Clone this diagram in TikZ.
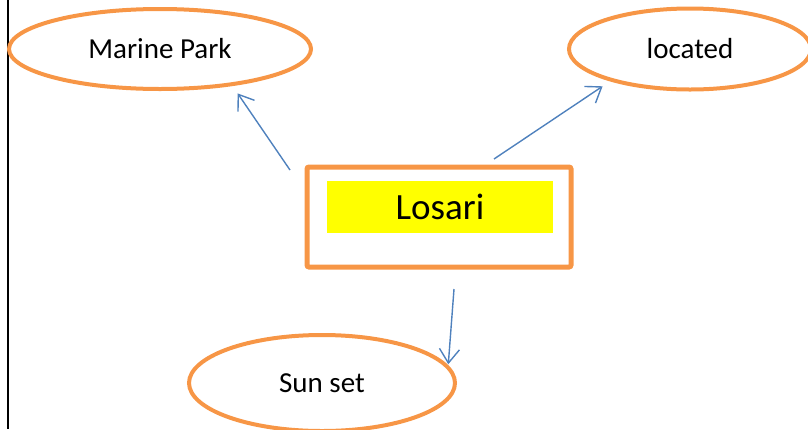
\documentclass[tikz,border=0pt]{standalone}
\usepackage{fontspec}
\setmainfont{Carlito}
\usepackage{xcolor}
\usetikzlibrary{shapes,arrows,positioning,arrows.meta}

\definecolor{bubbleorange}{HTML}{F79646}
\definecolor{linkblue}{HTML}{4F81BD}
\definecolor{labelyellow}{HTML}{FFFF00}

\tikzset{
    bubble/.style={ellipse, draw=bubbleorange, line width=4pt, inner sep=0pt,
        font=\fontsize{29}{33}\selectfont},
    link/.style={draw=linkblue, line width=1.4pt,
        -{Straight Barb[length=14pt,width=20pt,line width=1.4pt]}}
}

\begin{document}
\begin{tikzpicture}[x=1pt,y=-1pt]
    \useasboundingbox (0,0) rectangle (808,429);

    % Page edge
    \draw[line width=2pt] (7.5,0) -- (7.5,429);

    % Centre box
    \node[draw=bubbleorange, line width=5pt, rounded corners=2pt,
        minimum width=264pt, minimum height=100pt] (losari) at (439,217) {};
    \node[fill=labelyellow, minimum width=226pt, minimum height=52pt, inner sep=0pt,
        font=\fontsize{37}{41}\selectfont] (losari label) at (440,207) {Losari};

    % Bubbles
    \node[bubble, minimum width=302pt, minimum height=80pt] (marine) at (160,49) {Marine Park};
    \node[bubble, minimum width=242pt, minimum height=81pt] (located) at (690,49) {located};
    \node[bubble, minimum width=266pt, minimum height=96pt] (sunset) at (322,383) {Sun set};

    % Arrow tails
    \coordinate (marine tail) at (290,170);
    \coordinate (located tail) at (494,159);
    \coordinate (sunset tail) at (454,289);

    % Links
    \draw[link, shorten >=9pt] (marine tail) -- (marine.-27);
    \draw[link, shorten >=9pt] (located tail) -- (located.-158);
    \draw[link, shorten >=1pt] (sunset tail) -- (sunset.8);
\end{tikzpicture}
\end{document}
